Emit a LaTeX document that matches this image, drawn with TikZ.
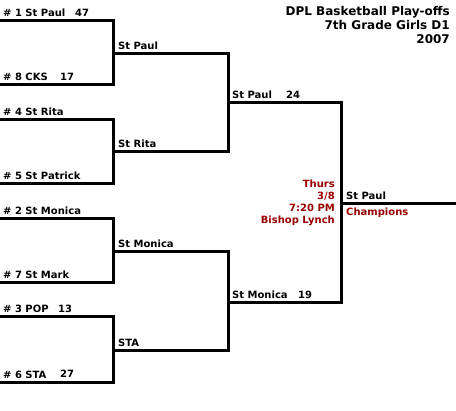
\documentclass[tikz,border=0pt]{standalone}
\usepackage{fontspec}
\setmainfont{DejaVu Sans}
\definecolor{dred}{RGB}{153,0,0}
\begin{document}
\begin{tikzpicture}[x=1pt,y=-1pt,
  lbl/.style={anchor=base west,inner sep=0pt,font=\bfseries\fontsize{10}{12}\selectfont},
  rlbl/.style={anchor=base east,inner sep=0pt,font=\bfseries\fontsize{10}{12}\selectfont,text=dred},
  ttl/.style={anchor=base east,inner sep=0pt,font=\bfseries\fontsize{12}{14}\selectfont},
  brk/.style={line width=3pt,line join=miter,line cap=rect}]
\useasboundingbox (0,0) rectangle (456,411);
% coordinates
\coordinate (a1) at (0,21);   \coordinate (a2) at (0,85);
\coordinate (a3) at (0,120);  \coordinate (a4) at (0,184);
\coordinate (a5) at (0,219);  \coordinate (a6) at (0,283);
\coordinate (a7) at (0,317);  \coordinate (a8) at (0,383);
\coordinate (b1) at (113,54); \coordinate (b2) at (113,152);
\coordinate (b3) at (113,252);\coordinate (b4) at (113,351);
\coordinate (c1) at (228,103);\coordinate (c2) at (228,303);
\coordinate (d1) at (341,204);\coordinate (e1) at (456,204);
% brackets
\draw[brk] (a1) -| (b1) |- (a2);
\draw[brk] (a3) -| (b2) |- (a4);
\draw[brk] (a5) -| (b3) |- (a6);
\draw[brk] (a7) -| (b4) |- (a8);
\draw[brk] (b1) -| (c1) |- (b2);
\draw[brk] (b3) -| (c2) |- (b4);
\draw[brk] (c1) -| (d1) |- (c2);
\draw[brk] (d1) -- (e1);
% round 1 labels
\node[lbl] (t1) at (3,16.5) {\# 1 St Paul};
\node[lbl] (s1) at (75,16.5) {47};
\node[lbl] (t8) at (3,80.5) {\# 8 CKS};
\node[lbl] (s8) at (60,80.5) {17};
\node[lbl] (t4) at (3,115.5) {\# 4 St Rita};
\node[lbl] (t5) at (3,179.5) {\# 5 St Patrick};
\node[lbl] (t2) at (3,214.5) {\# 2 St Monica};
\node[lbl] (t7) at (3,278.5) {\# 7 St Mark};
\node[lbl] (t3) at (3,312.5) {\# 3 POP};
\node[lbl] (s3) at (58,312.5) {13};
\node[lbl] (t6) at (3,379) {\# 6 STA};
\node[lbl] (s6) at (60,378) {27};
% round 2 labels
\node[lbl] (w1) at (118,49.5) {St Paul};
\node[lbl] (w2) at (118,147.5) {St Rita};
\node[lbl] (w3) at (118,247.5) {St Monica};
\node[lbl] (w4) at (118,346.5) {STA};
% round 3 labels
\node[lbl] (x1) at (232,98.5) {St Paul};
\node[lbl] (y1) at (286,98.5) {24};
\node[lbl] (x2) at (232,298.5) {St Monica};
\node[lbl] (y2) at (298,298.5) {19};
% final
\node[lbl] (ch) at (346,199.5) {St Paul};
\node[lbl,text=dred] (chl) at (346,216) {Champions};
\node[rlbl] (g1) at (335,188) {Thurs};
\node[rlbl] (g2) at (335,200) {3/8};
\node[rlbl] (g3) at (335,212) {7:20 PM};
\node[rlbl] (g4) at (335,224) {Bishop Lynch};
% title
\node[ttl] (h1) at (450,16) {DPL Basketball Play-offs};
\node[ttl] (h2) at (450,30) {7th Grade Girls D1};
\node[ttl] (h3) at (450,44) {2007};
\end{tikzpicture}
\end{document}
